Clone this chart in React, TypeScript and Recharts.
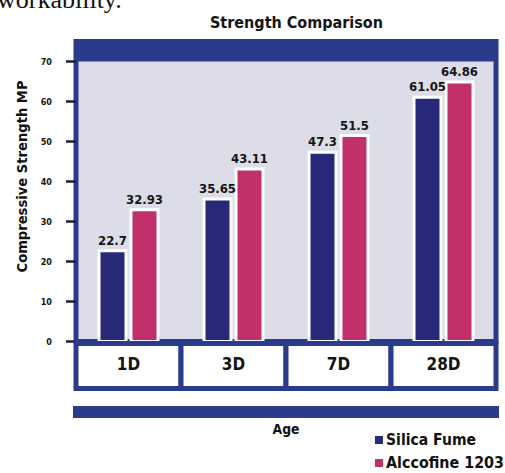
import React from 'react';
import { BarChart, Bar, XAxis, YAxis, ReferenceArea, LabelList, Legend } from 'recharts';

const categories = ['1D', '3D', '7D', '28D'];
const silicaFume = [22.7, 35.65, 47.3, 61.05];
const alccofine = [32.93, 43.11, 51.5, 64.86];
const yTicks = [0, 10, 20, 30, 40, 50, 60, 70];
const seriesNames = ['Silica Fume', 'Alccofine 1203'];
const titleText = 'Strength Comparison';
const yLabelText = 'Compressive Strength MP';
const xLabelText = 'Age';
const pageText = 'workability.';

const data = categories.map((c, i) => ({ age: c, silica: silicaFume[i], alccofine: alccofine[i] }));

const FRAME = '#2b3b8c';
const NAVY = '#29297a';
const MAGENTA = '#c2306c';
const PLOTBG = '#dcdde8';
const COND = "'DejaVu Sans Condensed', 'DejaVu Sans', sans-serif";

const CatTick = (props: any) => {
  const { x, y, payload } = props;
  const w = payload && payload.offset ? payload.offset * 2 : 105;
  return (
    <g>
      <rect x={x - w / 2} y={y + 2} width={w} height={45} fill="#ffffff" stroke={FRAME} strokeWidth={5} />
      <text x={x} y={y + 28} textAnchor="middle" fontFamily={COND} fontWeight={700} fontSize={17} fill="#151515">
        {payload.value}
      </text>
    </g>
  );
};

const AgeLabel = (props: any) => {
  const vb = props.viewBox || { x: 76, y: 341.5, width: 420, height: 48 };
  const bottom = vb.y + vb.height;
  return (
    <g>
      <rect x={vb.x - 3} y={bottom + 16.5} width={vb.width + 6} height={12} fill={FRAME} />
      <text x={vb.x + vb.width / 2} y={bottom + 44} textAnchor="middle" fontFamily={COND} fontWeight={700} fontSize={14} fill="#111" textLength={27} lengthAdjust="spacingAndGlyphs">
        {xLabelText}
      </text>
    </g>
  );
};

const YLabel = (props: any) => {
  const vb = props.viewBox || { x: 16, y: 41.5, width: 60, height: 300 };
  const cx = vb.x + 6;
  const cy = vb.y + vb.height * 0.45;
  return (
    <text x={cx} y={cy} transform={`rotate(-90 ${cx} ${cy})`} textAnchor="middle" dominantBaseline="central" fontFamily={COND} fontWeight={700} fontSize={14} fill="#111" textLength={192} lengthAdjust="spacingAndGlyphs">
      {yLabelText}
    </text>
  );
};

const LegendContent = () => {
  const colors = [NAVY, MAGENTA];
  const lens = [90, 118];
  return (
    <svg width={135} height={46} style={{ display: 'block' }}>
      {seriesNames.map((n, i) => (
        <g key={n}>
          <rect x={5} y={8 + i * 23} width={8} height={8} fill={colors[i]} />
          <text x={16} y={17 + i * 23} fontFamily={COND} fontWeight={700} fontSize={15} fill="#111" textLength={lens[i]} lengthAdjust="spacingAndGlyphs">
            {n}
          </text>
        </g>
      ))}
    </svg>
  );
};

export default function App() {
  return (
    <div style={{ position: 'absolute', left: 0, top: 0, width: 505, height: 473, background: '#fff', overflow: 'hidden' }}>
      <svg width={505} height={473} style={{ position: 'absolute', left: 0, top: 0 }}>
        <text x={-3} y={8} fontFamily="'Liberation Serif', 'Times New Roman', serif" fontSize={26} fill="#111">
          {pageText}
        </text>
        <text x={296.5} y={28} textAnchor="middle" fontFamily={COND} fontWeight={700} fontSize={16} fill="#151515" textLength={173} lengthAdjust="spacingAndGlyphs">
          {titleText}
        </text>
      </svg>
      <div style={{ position: 'absolute', left: 0, top: 0 }}>
        <BarChart
          width={505}
          height={473}
          data={data}
          margin={{ top: 41.5, right: 9, bottom: 83.5, left: 16 }}
          barSize={27}
          barGap={5}
        >
          <ReferenceArea y1={0} y2={75} fill={PLOTBG} fillOpacity={1} stroke={FRAME} strokeWidth={5} />
          <ReferenceArea y1={70} y2={75} fill={FRAME} fillOpacity={1} stroke="none" />
          <XAxis
            dataKey="age"
            axisLine={false}
            tickLine={false}
            tickSize={0}
            tickMargin={0}
            height={48}
            interval={0}
            tick={<CatTick />}
            label={<AgeLabel />}
          />
          <YAxis
            width={60}
            domain={[0, 75]}
            ticks={yTicks}
            allowDataOverflow
            axisLine={false}
            tickSize={10}
            tickMargin={14}
            tickLine={{ stroke: '#1c1c3a', strokeWidth: 2.5 }}
            tick={{ fontSize: 9, fontWeight: 700, fontFamily: COND, fill: '#151515' }}
            label={<YLabel />}
          />
          <Legend
            layout="vertical"
            align="center"
            verticalAlign="middle"
            wrapperStyle={{ left: 370, top: 428, width: 135, height: 46 }}
            content={<LegendContent />}
          />
          <Bar dataKey="silica" name={seriesNames[0]} fill={NAVY} stroke="#ffffff" strokeWidth={3} isAnimationActive={false}>
            <LabelList dataKey="silica" position="top" offset={6} fill="#151515" stroke="none" fontSize={13} fontWeight={700} fontFamily={COND} />
          </Bar>
          <Bar dataKey="alccofine" name={seriesNames[1]} fill={MAGENTA} stroke="#ffffff" strokeWidth={3} isAnimationActive={false}>
            <LabelList dataKey="alccofine" position="top" offset={6} fill="#151515" stroke="none" fontSize={13} fontWeight={700} fontFamily={COND} />
          </Bar>
        </BarChart>
      </div>
    </div>
  );
}
